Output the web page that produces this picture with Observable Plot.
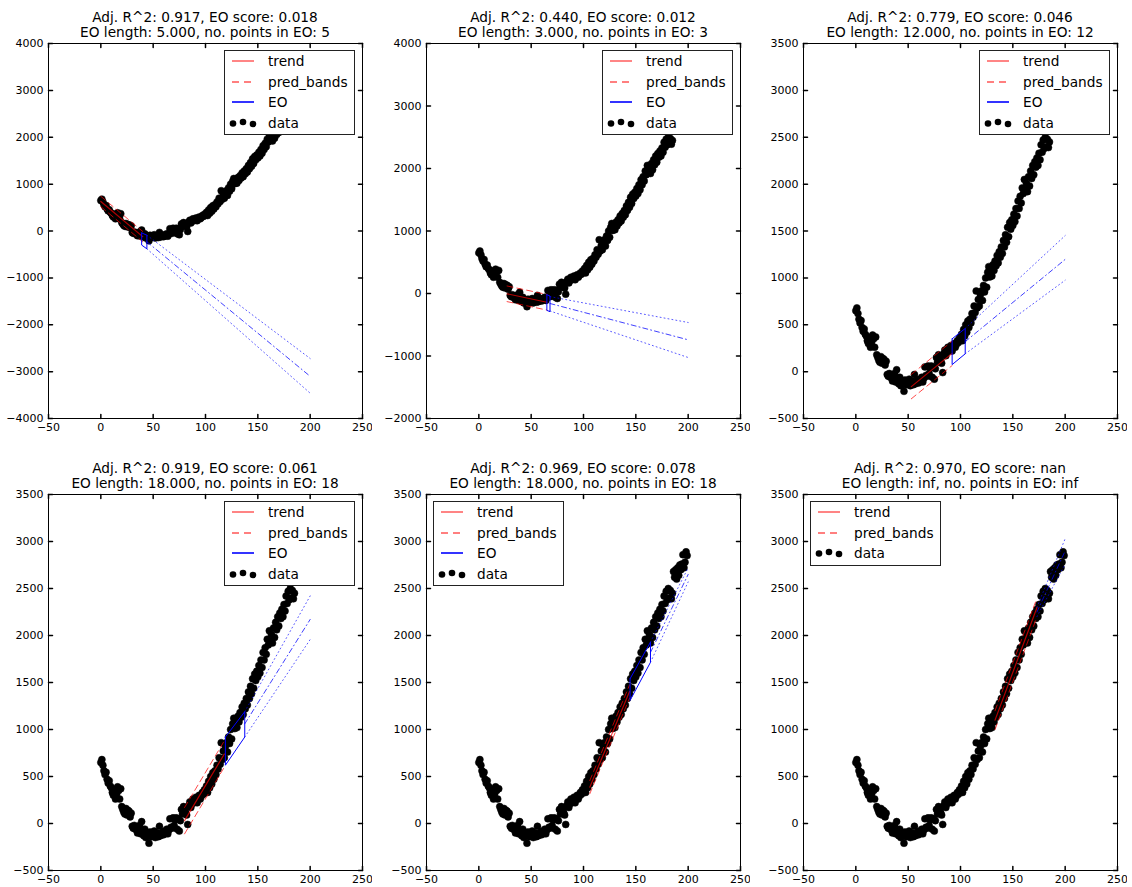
<!DOCTYPE html>
<html><head><meta charset="utf-8">
<script src="https://cdn.jsdelivr.net/npm/d3@7"></script>
<script src="https://cdn.jsdelivr.net/npm/@observablehq/plot@0.6"></script>
<style>
body{margin:0;background:#fff;}
#fig{position:relative;width:1132px;height:887px;background:#fff;font-family:"DejaVu Sans",sans-serif;overflow:hidden}
.title{position:absolute;text-align:center;font-size:13.7px;line-height:15px;color:#000;white-space:nowrap}
.panel{position:absolute}
.legend{position:absolute}
</style></head>
<body><div id="fig"></div>
<script>
// ---- data ----
const yValues = [
650, 680, 620, 560, 520, 545, 470, 430, 455, 400,
380, 330, 300, 360, 260, 310, 390, 350, 260, 370,
180, 150, 120, 100, 160, 90, 140, 130, 70, 110,
-30, -50, -20, -60, -40, -100, -70, -20, -110, 20,
-80, -130, -60, -150, -100, -120, -210, -90, -140, -110,
-130, -80, -150, -120, -100, -140, -30, -130, -110, -90,
-120, -80, -100, -60, -110, -70, 50, -40, -50, 60,
-20, 40, 60, -60, 50, -80, 30, 150, 100, 180,
160, 120, 90, -10, 190, 230, 170, 210, 260, 220,
250, 280, 220, 270, 300, 260, 290, 330, 310, 360,
340, 400, 330, 450, 380, 500, 420, 540, 470, 560,
520, 620, 580, 700, 630, 860, 680, 770, 700, 820,
860, 760, 920, 850, 1000, 900, 1060, 1120, 1010, 1100,
1020, 1140, 1080, 1180, 1130, 1240, 1160, 1280, 1220, 1330,
1260, 1400, 1330, 1460, 1380, 1540, 1440, 1590, 1520, 1620,
1560, 1680, 1600, 1740, 1660, 1820, 1740, 1870, 1800, 1960,
1900, 2050, 1940, 2010, 1920, 2080, 1980, 2140, 2060, 2200,
2100, 2240, 2180, 2280, 2200, 2330, 2260, 2420, 2340, 2470,
2380, 2500, 2400, 2480, 2390, 2450, 2680, 2620, 2700, 2600,
2720, 2640, 2750, 2700, 2760, 2860, 2720, 2780, 2890, 2850
];
const xValues = yValues.map((_, i) => i);

const titleLine1 = [
  "Adj. R^2: 0.917, EO score: 0.018",
  "Adj. R^2: 0.440, EO score: 0.012",
  "Adj. R^2: 0.779, EO score: 0.046",
  "Adj. R^2: 0.919, EO score: 0.061",
  "Adj. R^2: 0.969, EO score: 0.078",
  "Adj. R^2: 0.970, EO score: nan"
];
const titleLine2 = [
  "EO length: 5.000, no. points in EO: 5",
  "EO length: 3.000, no. points in EO: 3",
  "EO length: 12.000, no. points in EO: 12",
  "EO length: 18.000, no. points in EO: 18",
  "EO length: 18.000, no. points in EO: 18",
  "EO length: inf, no. points in EO: inf"
];
const xTicks = [-50, 0, 50, 100, 150, 200, 250];
const yTickSets = [
  [-4000, -3000, -2000, -1000, 0, 1000, 2000, 3000, 4000],
  [-2000, -1000, 0, 1000, 2000, 3000, 4000],
  [-500, 0, 500, 1000, 1500, 2000, 2500, 3000, 3500],
  [-500, 0, 500, 1000, 1500, 2000, 2500, 3000, 3500],
  [-500, 0, 500, 1000, 1500, 2000, 2500, 3000, 3500],
  [-500, 0, 500, 1000, 1500, 2000, 2500, 3000, 3500]
];
const dataMaxX = [185, 185, 185, 185, 199, 199];

const trendX     = [[0, 40], [27, 65], [53, 92], [80, 118], [106, 144], [133, 173]];
const trendY     = [[630, -120], [-5, -140], [-160, 195], [30, 740], [386, 1404], [1100, 2296]];
const bandUpperY = [[740, -10], [120, -15], [-30, 325], [170, 880], [456, 1474], [1200, 2396]];
const bandLowerY = [[520, -230], [-130, -265], [-290, 65], [-110, 600], [316, 1334], [1000, 2196]];

const eoX      = [[39, 44], [65, 68], [92, 104.5], [119, 137.5], [144.5, 164], null];
const eoUpperY = [[-40, -90], [-20, -40], [350, 460], [920, 1190], [1540, 1930], null];
const eoLowerY = [[-300, -380], [-270, -290], [75, 190], [620, 920], [1310, 1715], null];

const projX      = [[44, 200], [68, 200], [104.5, 200], [137.5, 200], [164, 200], [173, 200]];
const projUpperY = [[-90, -2720], [-50, -464], [460, 1451], [1190, 2421], [1930, 2720], [2300, 3030]];
const projMidY   = [[-230, -3100], [-160, -741], [320, 1197], [1060, 2171], [1820, 2650], [2250, 2900]];
const projLowerY = [[-380, -3460], [-280, -1024], [190, 975], [920, 1957], [1715, 2570], [2200, 2760]];

const legendNames = ["trend", "pred_bands", "EO", "data"];

// ---- layout ----
const colLeft = [48, 426, 803];
const rowTop = [43, 494];
const frameW = 314, frameHs = [375, 376];
const mL = 45, mR = 10, mT = 10, mB = 25;
const legendRight = [true, true, true, true, false, false];

const fig = document.getElementById("fig");
const tickShape = {draw(ctx, l) { ctx.moveTo(0, 0); ctx.lineTo(0, -l); }};
const RED = "#ff0000", BLUE = "#0000ff";

function seg(xs, ys) { return [{x: xs[0], y: ys[0]}, {x: xs[1], y: ys[1]}]; }

for (let p = 0; p < 6; p++) {
  const col = p % 3, row = Math.floor(p / 3);
  const fx = colLeft[col], fy = rowTop[row], fh = frameHs[row];
  const yt = yTickSets[p];
  const pts = xValues.map((x, i) => ({x, y: yValues[i]})).filter(d => d.x <= dataMaxX[p]);

  const marks = [
    Plot.dot(pts, {x: "x", y: "y", r: 3.5, fill: "black", stroke: "black", strokeWidth: 0.5}),
    Plot.line(seg(projX[p], projUpperY[p]), {x: "x", y: "y", stroke: BLUE, strokeOpacity: 0.65, strokeDasharray: "1,3", strokeWidth: 1, clip: true}),
    Plot.line(seg(projX[p], projLowerY[p]), {x: "x", y: "y", stroke: BLUE, strokeOpacity: 0.65, strokeDasharray: "1,3", strokeWidth: 1, clip: true}),
    Plot.line(seg(projX[p], projMidY[p]), {x: "x", y: "y", stroke: BLUE, strokeOpacity: 0.75, strokeDasharray: "5,3,1,3", strokeWidth: 1, clip: true}),
    Plot.line(seg(trendX[p], bandUpperY[p]), {x: "x", y: "y", stroke: RED, strokeOpacity: 0.7, strokeDasharray: "6,4", strokeWidth: 1, clip: true}),
    Plot.line(seg(trendX[p], bandLowerY[p]), {x: "x", y: "y", stroke: RED, strokeOpacity: 0.7, strokeDasharray: "6,4", strokeWidth: 1, clip: true}),
    Plot.line(seg(trendX[p], trendY[p]), {x: "x", y: "y", stroke: RED, strokeOpacity: 0.7, strokeWidth: 1.2, clip: true})
  ];
  if (eoX[p]) {
    const ex = eoX[p], eu = eoUpperY[p], el = eoLowerY[p];
    const poly = [
      {x: ex[0], y: eu[0]}, {x: ex[1], y: eu[1]}, {x: ex[1], y: el[1]},
      {x: ex[0], y: el[0]}, {x: ex[0], y: eu[0]}
    ];
    marks.push(Plot.line(poly, {x: "x", y: "y", stroke: BLUE, strokeWidth: 1, clip: true}));
  }
  marks.push(
    Plot.frame({stroke: "black", strokeWidth: 1}),
    Plot.vector(xTicks, {x: d => d, frameAnchor: "bottom", length: 4, rotate: 0, anchor: "start", shape: tickShape, stroke: "black"}),
    Plot.vector(xTicks, {x: d => d, frameAnchor: "top", length: 4, rotate: 180, anchor: "start", shape: tickShape, stroke: "black"}),
    Plot.vector(yt, {y: d => d, frameAnchor: "left", length: 4, rotate: 90, anchor: "start", shape: tickShape, stroke: "black"}),
    Plot.vector(yt, {y: d => d, frameAnchor: "right", length: 4, rotate: 270, anchor: "start", shape: tickShape, stroke: "black"}),
    Plot.axisX(xTicks, {anchor: "bottom", tickSize: 0, tickPadding: 5, label: null, tickFormat: d3.format("d")}),
    Plot.axisY(yt, {anchor: "left", tickSize: 0, tickPadding: 5, label: null, tickFormat: d3.format("d")})
  );

  const chart = Plot.plot({
    width: mL + frameW + mR,
    height: mT + fh + mB,
    marginLeft: mL, marginRight: mR, marginTop: mT, marginBottom: mB,
    x: {domain: [-50, 250], label: null},
    y: {domain: [yt[0], yt[yt.length - 1]], label: null},
    style: {fontFamily: "DejaVu Sans, sans-serif", fontSize: "11px", color: "black", background: "white"},
    marks
  });
  const wrap = document.createElement("div");
  wrap.className = "panel";
  wrap.style.left = (fx - mL) + "px";
  wrap.style.top = (fy - mT) + "px";
  wrap.appendChild(chart);
  fig.appendChild(wrap);

  // title
  const t = document.createElement("div");
  t.className = "title";
  t.style.left = fx + "px";
  t.style.width = frameW + "px";
  t.style.top = (fy - 33) + "px";
  t.innerHTML = titleLine1[p] + "<br>" + titleLine2[p];
  fig.appendChild(t);

  // legend
  const names = eoX[p] ? legendNames : legendNames.filter(n => n !== "EO");
  const lw = 131, lh = names.length === 4 ? 85 : 65;
  const lg = document.createElement("div");
  lg.className = "legend";
  lg.style.left = (legendRight[p] ? fx + frameW - 7 - lw : fx + 7) + "px";
  lg.style.top = (fy + 7) + "px";
  const ns = "http://www.w3.org/2000/svg";
  const svg = document.createElementNS(ns, "svg");
  svg.setAttribute("width", lw); svg.setAttribute("height", lh);
  let html = `<rect x="0.5" y="0.5" width="${lw - 1}" height="${lh - 1}" fill="white" stroke="#222" stroke-width="1"/>`;
  names.forEach((n, i) => {
    const cy = Math.round(11 + i * 20.5);
    if (n === "trend") html += `<line x1="8" x2="30" y1="${cy}" y2="${cy}" stroke="#ff6666" stroke-width="1.6"/>`;
    if (n === "pred_bands") html += `<line x1="8" x2="30" y1="${cy}" y2="${cy}" stroke="#ff5555" stroke-width="1.6" stroke-dasharray="7,5"/>`;
    if (n === "EO") html += `<line x1="8" x2="30" y1="${cy}" y2="${cy}" stroke="${BLUE}" stroke-width="1.6"/>`;
    if (n === "data") html += `<circle cx="9" cy="${cy + 0.5}" r="3.3" fill="black"/><circle cx="19" cy="${cy - 1}" r="3.3" fill="black"/><circle cx="29" cy="${cy + 1}" r="3.3" fill="black"/>`;
    html += `<text x="44" y="${cy + 5}" font-family="DejaVu Sans, sans-serif" font-size="13.7" fill="black">${n}</text>`;
  });
  svg.innerHTML = html;
  lg.appendChild(svg);
  fig.appendChild(lg);
}
</script>
</body></html>
